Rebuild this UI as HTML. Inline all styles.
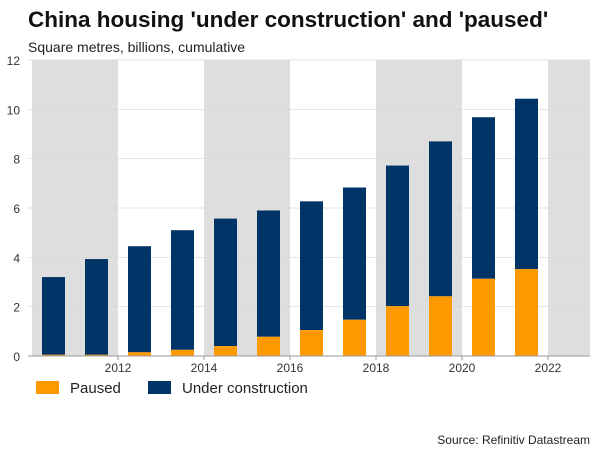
<!DOCTYPE html>
<html><head><meta charset="utf-8"><style>
body{margin:0;background:#fff;font-family:"Liberation Sans",sans-serif;}
</style></head><body>
<svg width="600" height="450" id="c" xmlns="http://www.w3.org/2000/svg">
<text x="28" y="27" font-size="22.5" font-weight="bold" fill="#111">China housing 'under construction' and 'paused'</text>
<text x="28" y="52" font-size="14" fill="#222">Square metres, billions, cumulative</text>
<g id="bands"></g><g id="grid"></g><g id="bars"></g><g id="axes"></g>
<rect x="36" y="381" width="23" height="13" fill="#FF9900"/>
<text x="70" y="393" font-size="15" fill="#222">Paused</text>
<rect x="148" y="381" width="23" height="13" fill="#003366"/>
<text x="182" y="393" font-size="15" fill="#222">Under construction</text>
<text x="590" y="444" font-size="12" fill="#222" text-anchor="end">Source: Refinitiv Datastream</text>
</svg>
<script>
const years=[2010.5,2011.5,2012.5,2013.5,2014.5,2015.5,2016.5,2017.5,2018.5,2019.5,2020.5,2021.5];
const totals=[3.2,3.93,4.45,5.1,5.57,5.9,6.27,6.83,7.72,8.7,9.68,10.43];
const paused=[0.05,0.05,0.15,0.25,0.4,0.78,1.05,1.47,2.02,2.42,3.13,3.52];
const yTicks=[0,2,4,6,8,10,12];
const xTicks=[2012,2014,2016,2018,2020,2022];
const bands=[[2010,2012],[2014,2016],[2018,2020],[2022,2023]];
const NS="http://www.w3.org/2000/svg";
const L=28,R=590,T=60,B=356;
const x=v=>118+(v-2012)*43;
const y=v=>B-(v/12)*(B-T);
function mk(tag,at,p){const e=document.createElementNS(NS,tag);for(const k in at)e.setAttribute(k,at[k]);p.appendChild(e);return e;}
const gb=document.getElementById('bands'),gg=document.getElementById('grid'),gr=document.getElementById('bars'),ga=document.getElementById('axes');
bands.forEach(b=>{const x0=Math.max(L,x(b[0])),x1=Math.min(R,x(b[1]));
const e=mk('rect',{x:x0,y:T,width:x1-x0,height:B-T,fill:'#dedede'},gb);

});
yTicks.forEach(t=>{const l=mk('line',{x1:L,x2:R,y1:y(t),y2:y(t),stroke:'#d8d8d8','stroke-width':0.7},gg);


const tx=mk('text',{x:L-8,y:y(t)+5,'font-size':12,fill:'#333','text-anchor':'end'},ga);tx.textContent=t;

});
years.forEach((yr,i)=>{const cx=x(yr),w=23;
const u=mk('rect',{x:cx-w/2,y:y(totals[i]),width:w,height:y(paused[i])-y(totals[i]),fill:'#003366'},gr);


const p=mk('rect',{x:cx-w/2,y:y(paused[i]),width:w,height:B-y(paused[i]),fill:'#FF9900'},gr);

});
const ax=mk('line',{x1:L,x2:R,y1:B,y2:B,stroke:'#999','stroke-width':1},ga);


xTicks.forEach(t=>{const l=mk('line',{x1:x(t),x2:x(t),y1:B,y2:B+4,stroke:'#999'},ga);


const tx=mk('text',{x:x(t),y:B+16,'font-size':12,fill:'#333','text-anchor':'middle'},ga);tx.textContent=t;

});
</script>
</body></html>
